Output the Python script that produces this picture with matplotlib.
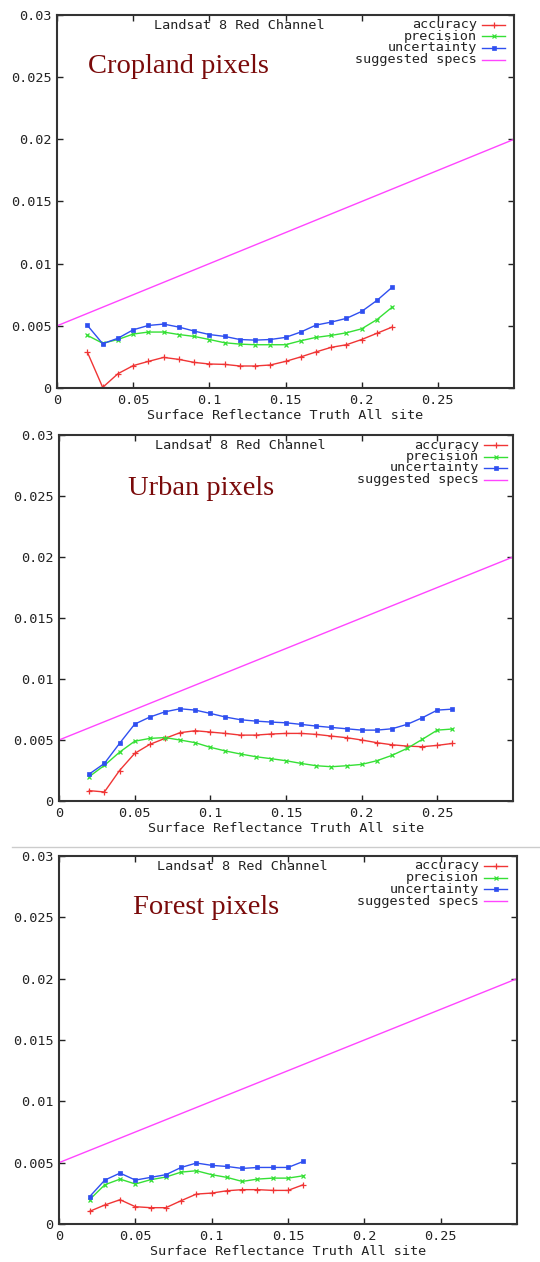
import matplotlib
matplotlib.use("Agg")
import matplotlib.pyplot as plt
from matplotlib.lines import Line2D

# ---------------- data ----------------
crop_x = [0.02, 0.03, 0.04, 0.05, 0.06, 0.07, 0.08, 0.09, 0.10, 0.11, 0.12,
          0.13, 0.14, 0.15, 0.16, 0.17, 0.18, 0.19, 0.20, 0.21, 0.22]
crop_acc = [0.00286, 0.00005, 0.00115, 0.0018, 0.00214, 0.00246, 0.0023, 0.00206,
            0.00193, 0.0019, 0.00177, 0.00177, 0.00185, 0.00214, 0.0025, 0.0029,
            0.00327, 0.00348, 0.0039, 0.0044, 0.0049]
crop_prec = [0.00423, 0.0036, 0.0039, 0.00434, 0.0045, 0.0045, 0.0043, 0.00415,
             0.0039, 0.00364, 0.00353, 0.00348, 0.00348, 0.00348, 0.0038, 0.00407,
             0.00423, 0.00444, 0.00476, 0.0055, 0.0065]
crop_unc = [0.00503, 0.00356, 0.004, 0.00468, 0.00503, 0.00514, 0.0049, 0.00458,
            0.0043, 0.00415, 0.0039, 0.00385, 0.0039, 0.00407, 0.0045, 0.00506,
            0.0053, 0.0056, 0.00616, 0.00704, 0.0081]

urban_x = [0.02, 0.03, 0.04, 0.05, 0.06, 0.07, 0.08, 0.09, 0.10, 0.11, 0.12, 0.13,
           0.14, 0.15, 0.16, 0.17, 0.18, 0.19, 0.20, 0.21, 0.22, 0.23, 0.24, 0.25, 0.26]
urban_acc = [0.00085, 0.00074, 0.0025, 0.0039, 0.00464, 0.00513, 0.0056, 0.00576,
             0.00565, 0.00554, 0.0054, 0.0054, 0.00549, 0.00554, 0.00554, 0.00546,
             0.00532, 0.00519, 0.005, 0.00478, 0.00461, 0.0045, 0.00445, 0.00456, 0.00472]
urban_prec = [0.002, 0.00292, 0.004, 0.0049, 0.00513, 0.0052, 0.005, 0.00478,
              0.0044, 0.0041, 0.00385, 0.00363, 0.00347, 0.0033, 0.00308, 0.00289,
              0.00281, 0.00289, 0.003, 0.0033, 0.00374, 0.00431, 0.00505, 0.00581, 0.0059]
urban_unc = [0.00221, 0.00308, 0.00472, 0.0063, 0.00688, 0.00731, 0.00756, 0.00745,
             0.00718, 0.00688, 0.00666, 0.00655, 0.00647, 0.00641, 0.00628, 0.00614,
             0.00603, 0.00592, 0.00581, 0.00581, 0.00592, 0.00628, 0.00682, 0.00745, 0.00753]

forest_x = [0.02, 0.03, 0.04, 0.05, 0.06, 0.07, 0.08, 0.09, 0.10, 0.11, 0.12,
            0.13, 0.14, 0.15, 0.16]
forest_acc = [0.00103, 0.00155, 0.00198, 0.00141, 0.00133, 0.00133, 0.0019, 0.00244,
              0.00252, 0.00271, 0.0028, 0.0028, 0.00274, 0.00274, 0.0032]
forest_prec = [0.00198, 0.0032, 0.00366, 0.00326, 0.00361, 0.00383, 0.00423, 0.00434,
               0.00402, 0.0038, 0.00347, 0.00366, 0.00374, 0.00374, 0.00393]
forest_unc = [0.00222, 0.00358, 0.00415, 0.00358, 0.0038, 0.00402, 0.00461, 0.00497,
              0.00478, 0.00469, 0.00453, 0.00461, 0.00461, 0.00461, 0.0051]

spec_x = [0.0, 0.3]
spec_y = [0.005, 0.02]

x_ticks = [0, 0.05, 0.1, 0.15, 0.2, 0.25]
x_tick_labels = ["0", "0.05", "0.1", "0.15", "0.2", "0.25"]
y_ticks = [0, 0.005, 0.01, 0.015, 0.02, 0.025, 0.03]
y_tick_labels = ["0", "0.005", "0.01", "0.015", "0.02", "0.025", "0.03"]

series_names = ["accuracy", "precision", "uncertainty", "suggested specs"]
panel_labels = ["Cropland pixels", "Urban pixels", "Forest pixels"]
chart_title = "Landsat 8 Red Channel"
x_label = "Surface Reflectance Truth All site"

# ---------------- style ----------------
W, H = 540, 1262
C_ACC = "#f03535"
C_PREC = "#35e035"
C_UNC = "#2f4ff0"
C_SPEC = "#ff45ff"
MONO = "DejaVu Sans Mono"
FS = 9.7

fig = plt.figure(figsize=(W / 100, H / 100), dpi=100)
fig.patch.set_facecolor("white")

# axes rects in pixels: (left, right, top, bottom)
rects = [(57, 514, 15, 388), (59, 513, 435, 801), (59, 517, 856, 1224)]
label_pos = [(0.068, 0.861), (0.152, 0.855), (0.162, 0.861)]
panels = [
    (crop_x, crop_acc, crop_prec, crop_unc),
    (urban_x, urban_acc, urban_prec, urban_unc),
    (forest_x, forest_acc, forest_prec, forest_unc),
]

for (l, r, t, b), (px, pacc, pprec, punc), lab, lpos in zip(rects, panels, panel_labels, label_pos):
    ax = fig.add_axes([l / W, 1 - b / H, (r - l) / W, (b - t) / H])
    ax.plot(px, pacc, color=C_ACC, lw=1.0, marker="+", ms=5, mew=0.9)
    ax.plot(px, pprec, color=C_PREC, lw=1.0, marker="x", ms=3.5, mew=0.9)
    ax.plot(px, punc, color=C_UNC, lw=1.0, marker="s", ms=3, mew=0.5)
    ax.plot(spec_x, spec_y, color=C_SPEC, lw=1.0)
    ax.set_xlim(0, 0.3)
    ax.set_ylim(0, 0.03)
    ax.set_xticks(x_ticks)
    ax.set_xticklabels(x_tick_labels, fontfamily=MONO, fontsize=FS)
    ax.set_yticks(y_ticks)
    ax.set_yticklabels(y_tick_labels, fontfamily=MONO, fontsize=FS)
    ax.tick_params(direction="in", length=4, width=1.0, top=True, right=True,
                   color="#222222", labelcolor="#222222")
    ax.tick_params(axis="x", pad=4)
    ax.tick_params(axis="y", pad=4)
    for s in ax.spines.values():
        s.set_linewidth(1.5)
        s.set_color("#333333")
    ax.set_xlabel(x_label, fontfamily=MONO, fontsize=FS, color="#222222", labelpad=2)
    ax.text(0.40, 0.972, chart_title, transform=ax.transAxes, ha="center", va="center",
            fontfamily=MONO, fontsize=FS, color="#222222")
    ax.text(lpos[0], lpos[1], lab, transform=ax.transAxes, ha="left", va="center",
            fontfamily="Liberation Serif", fontsize=20.5, color="#7a0a0a")
    # key
    hgt = b - t
    wid = r - l
    rows_px = [10, 21.5, 33, 45]
    styles = [(C_ACC, "+", 5), (C_PREC, "x", 3.5), (C_UNC, "s", 3), (C_SPEC, None, 0)]
    for name, dy, (c, m, ms) in zip(series_names, rows_px, styles):
        yy = 1 - dy / hgt
        ax.text(420 / wid, yy, name, transform=ax.transAxes, ha="right", va="center",
                fontfamily=MONO, fontsize=FS, color="#222222")
        ax.plot([425 / wid, 448 / wid], [yy, yy], transform=ax.transAxes, color=c, lw=1.0,
                clip_on=False)
        if m is not None:
            ax.plot([436.5 / wid], [yy], transform=ax.transAxes, color=c, marker=m, ms=ms,
                    mew=0.9 if m != "s" else 0.5, clip_on=False)

# light separator line between 2nd and 3rd panels
fig.add_artist(Line2D([12 / W, 1.0], [1 - 847 / H, 1 - 847 / H], color="#cccccc", lw=1.0))

fig.savefig("out.png", dpi=100, facecolor="white")
